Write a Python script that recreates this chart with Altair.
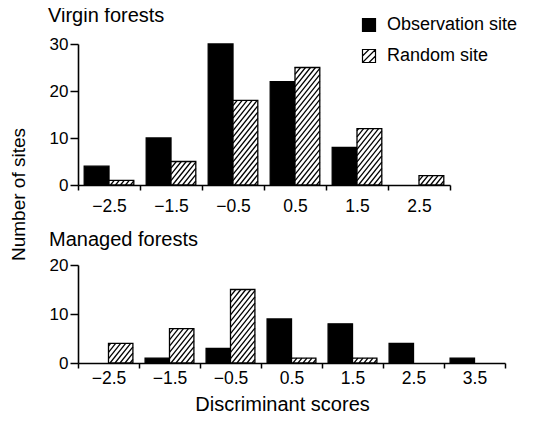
import altair as alt
import pandas as pd
import math

FONT = "Liberation Sans"

# ---- data ----
series_names = ["Observation site", "Random site"]

virgin_scores = [-2.5, -1.5, -0.5, 0.5, 1.5, 2.5]
virgin_obs = [4, 10, 30, 22, 8, 0]
virgin_rand = [1, 5, 18, 25, 12, 2]

managed_scores = [-2.5, -1.5, -0.5, 0.5, 1.5, 2.5, 3.5]
managed_obs = [0, 1, 3, 9, 8, 4, 1]
managed_rand = [4, 7, 15, 1, 1, 0, 0]

BAR_W = 0.4          # bar width in score units
HATCH_STEP = 5.0     # px between hatch lines (horizontal)
HATCH_SLOPE = 1.25   # steepness of hatch lines

LEGEND_SHAPE = "M-1,-1H1V1H-1Z M-1,0L0,-1 M-1,1L1,-1 M0,1L1,0"


def bars_frame(scores, obs, rnd):
    rows = []
    for c, v in zip(scores, obs):
        rows.append({"score": c, "count": v, "series": series_names[0],
                     "x0": c - BAR_W, "x1": c, "base": 0})
    for c, v in zip(scores, rnd):
        rows.append({"score": c, "count": v, "series": series_names[1],
                     "x0": c, "x1": c + BAR_W, "base": 0})
    return pd.DataFrame(rows)


def hatch_frame(scores, rnd, xmin, xmax, ymax, W, H):
    pxu = W / (xmax - xmin)
    pyu = H / ymax
    rows = []
    for c, v in zip(scores, rnd):
        if v <= 0:
            continue
        bwp = BAR_W * pxu
        hp = v * pyu
        run = hp / HATCH_SLOPE
        k = -math.ceil(run / HATCH_STEP) - 1
        while True:
            t = 1.5 + k * HATCH_STEP
            if t > bwp:
                break
            us = max(0.0, t)
            ue = min(bwp, t + run)
            if ue - us > 0.4:
                rows.append({
                    "hx": c + us / pxu, "hx2": c + ue / pxu,
                    "hy": HATCH_SLOPE * (us - t) / pyu,
                    "hy2": HATCH_SLOPE * (ue - t) / pyu,
                })
            k += 1
    return pd.DataFrame(rows)


def panel(scores, obs, rnd, xmin, xmax, ymax, yvals, W, H, title, title_dx,
          title_dy, legend, xtitle, ytitle, xlabel_pad):
    xvals = [v / 2 for v in range(int(2 * xmin), int(2 * xmax) + 1)]
    xscale = alt.Scale(domain=[xmin, xmax], nice=False, zero=False)
    yscale = alt.Scale(domain=[0, ymax], nice=False)
    xaxis = alt.Axis(
        values=xvals, format=".1f",
        labelExpr="datum.value % 1 == 0 ? '' : datum.label",
        tickOpacity={"condition": {"test": "datum.value % 1 != 0", "value": 0}, "value": 1},
        grid=False, domainColor="black", domainWidth=1.6, tickColor="black",
        tickWidth=1.5, tickSize=5, labelFontSize=17.5, labelFont=FONT,
        labelColor="black", labelPadding=xlabel_pad, labelOverlap=False,
        labelFlush=False,
        title=xtitle, titleFont=FONT, titleFontSize=20, titleFontWeight="normal",
        titleColor="black", titlePadding=8, titleX=204,
    )
    yaxis_kw = dict(
        values=yvals, grid=False, domainColor="black", domainWidth=1.6,
        tickColor="black", tickWidth=1.5, tickSize=8, labelFontSize=17,
        labelFont=FONT, labelColor="black", labelPadding=2,
        titleFont=FONT, titleFontSize=19, titleFontWeight="normal",
        titleColor="black",
    )
    if ytitle:
        yaxis = alt.Axis(title=ytitle, titleX=-50, titleY=150, **yaxis_kw)
    else:
        yaxis = alt.Axis(title=None, **yaxis_kw)

    if legend:
        leg = alt.Legend(
            title=None, orient="none", legendX=282, legendY=-28,
            symbolType=LEGEND_SHAPE, symbolSize=169, symbolStrokeColor="black",
            symbolStrokeWidth=1.2, labelFont=FONT, labelFontSize=18,
            labelColor="black", labelOffset=9, rowPadding=13, padding=0,
        )
    else:
        leg = None

    df = bars_frame(scores, obs, rnd)
    bars = alt.Chart(df).transform_filter("datum.count > 0").mark_rect(
        stroke="black", strokeWidth=1.3
    ).encode(
        x=alt.X("x0:Q", scale=xscale, axis=xaxis),
        x2="x1:Q",
        y=alt.Y("count:Q", scale=yscale, axis=yaxis),
        y2="base:Q",
        fill=alt.Fill("series:N", scale=alt.Scale(domain=series_names,
                                                  range=["black", "white"]),
                      legend=leg),
    )
    hd = hatch_frame(scores, rnd, xmin, xmax, ymax, W, H)
    hatch = alt.Chart(hd).mark_rule(color="black", strokeWidth=1.3).encode(
        x=alt.X("hx:Q", scale=xscale, axis=xaxis),
        x2="hx2:Q",
        y=alt.Y("hy:Q", scale=yscale, axis=yaxis),
        y2="hy2:Q",
    )
    return alt.layer(bars, hatch).properties(
        width=W, height=H,
        title=alt.TitleParams(
            text=title, anchor="start", frame="group", dx=title_dx,
            dy=title_dy, offset=10, baseline="alphabetic", font=FONT,
            fontSize=20, fontWeight="normal", color="black",
        ),
    )


top = panel(virgin_scores, virgin_obs, virgin_rand, -3, 3, 30, [0, 10, 20, 30],
            372, 141, "Virgin forests", -30, 36, True, None, "Number of sites", 7)
bottom = panel(managed_scores, managed_obs, managed_rand, -3, 4, 20, [0, 10, 20],
               427, 98, "Managed forests", -29, 20, False, "Discriminant scores",
               None, 1)

chart = alt.vconcat(top, bottom, spacing=80, bounds="flush").resolve_scale(
    fill="independent"
).properties(
    padding={"left": 1, "top": -2, "right": 5, "bottom": 0},
).configure_view(stroke=None)

chart.save("out.html", embed_options={"renderer": "svg", "actions": False})
